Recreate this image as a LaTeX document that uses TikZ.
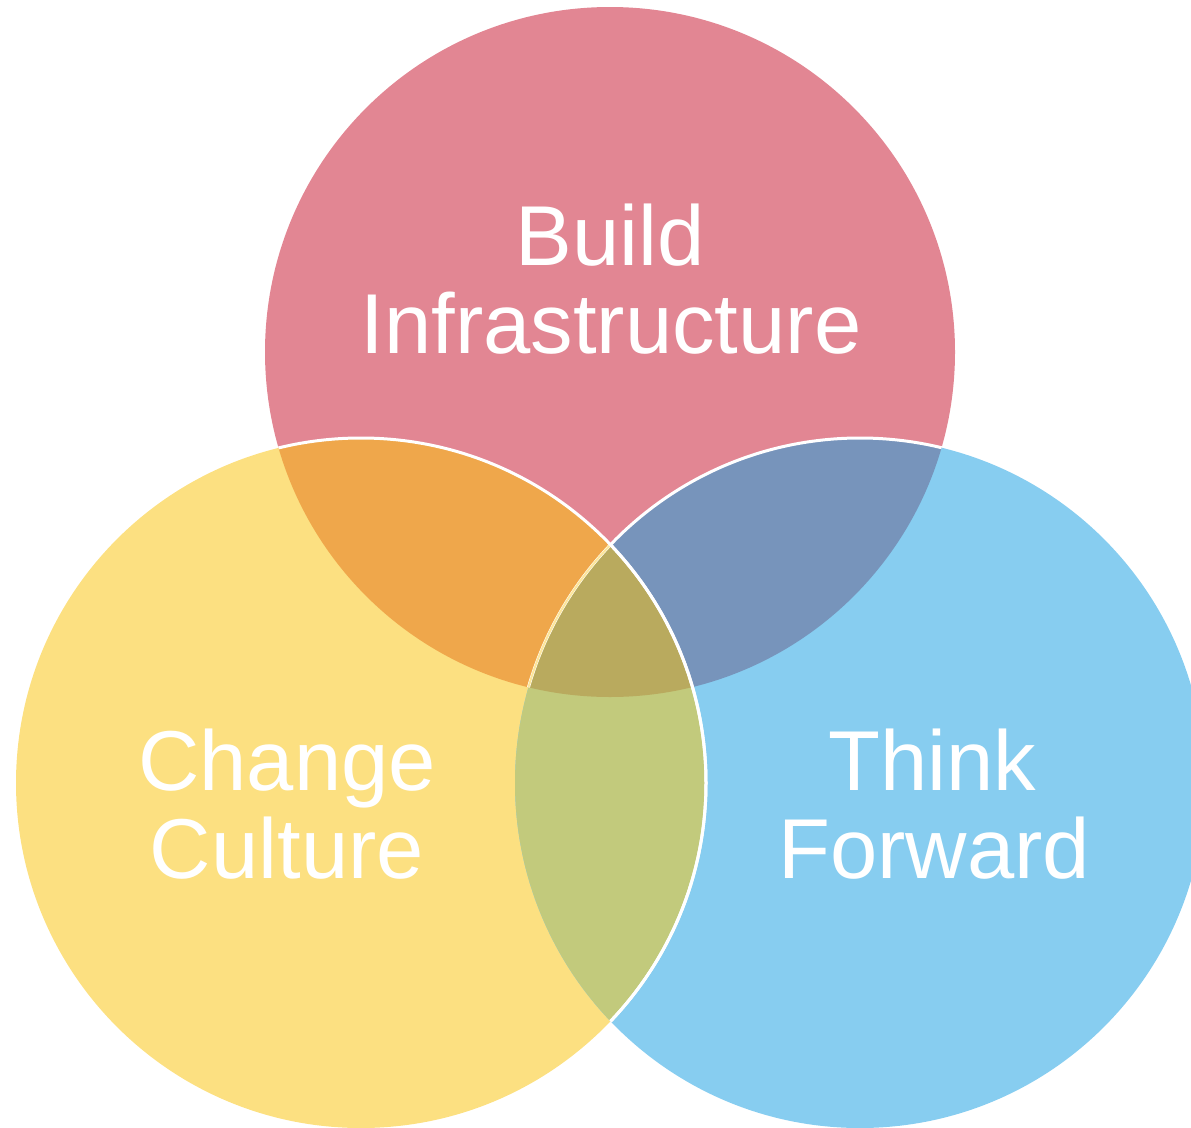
\documentclass[tikz,border=0pt]{standalone}
\usepackage{fontspec}
\setmainfont{Liberation Sans}
\definecolor{cpink}{HTML}{E28693}
\definecolor{cyellow}{HTML}{FCE081}
\definecolor{cblue}{HTML}{87CDF0}
\definecolor{corange}{HTML}{EFA74B}
\definecolor{cslate}{HTML}{7794BB}
\definecolor{cgreen}{HTML}{C2CA7C}
\definecolor{ccenter}{HTML}{B9AA5E}
\tikzset{
  lbl/.style={anchor=base, text=white, inner sep=0pt, font=\fontsize{85}{88}\selectfont},
  rim/.style={draw=white, line width=3pt}
}
\begin{document}
\begin{tikzpicture}[x=1pt,y=-1pt]
\useasboundingbox (0,0) rectangle (1191,1127);
\def\R{345}
\coordinate (P) at (610,352);
\coordinate (Y) at (361,783);
\coordinate (B) at (860,783);
% base circles
\fill[cpink] (P) circle (\R);
\fill[cyellow] (Y) circle (\R);
\fill[cblue] (B) circle (\R);
% pairwise overlaps
\begin{scope}
  \clip (P) circle (\R);
  \fill[corange] (Y) circle (\R);
  \fill[cslate] (B) circle (\R);
\end{scope}
\begin{scope}
  \clip (Y) circle (\R);
  \fill[cgreen] (B) circle (\R);
  \clip (B) circle (\R);
  \fill[ccenter] (P) circle (\R);
\end{scope}
% white rims
\begin{scope}
  \clip (P) circle (\R);
  \draw[rim] (B) circle (\R);
\end{scope}
\begin{scope}
  \clip (P) circle (\R);
  \clip (Y) circle (\R);
  \draw[draw=cyellow!80!white, line width=2pt] (B) circle (\R);
\end{scope}
\begin{scope}
  \clip (P) circle (\R) (B) circle (\R);
  \draw[rim] (Y) circle (\R);
\end{scope}
\begin{scope}
  \clip (B) circle (\R);
  \draw[rim] (Y) circle (\R);
\end{scope}
% labels
\node[lbl] (build) at (610,265) {Build};
\node[lbl] (infra) at (611,353) {Infrastructure};
\node[lbl] (change) at (287,790) {Change};
\node[lbl] (culture) at (287,878) {Culture};
\node[lbl] (think) at (932,790) {Think};
\node[lbl] (forward) at (934,878) {Forward};
\end{tikzpicture}
\end{document}
